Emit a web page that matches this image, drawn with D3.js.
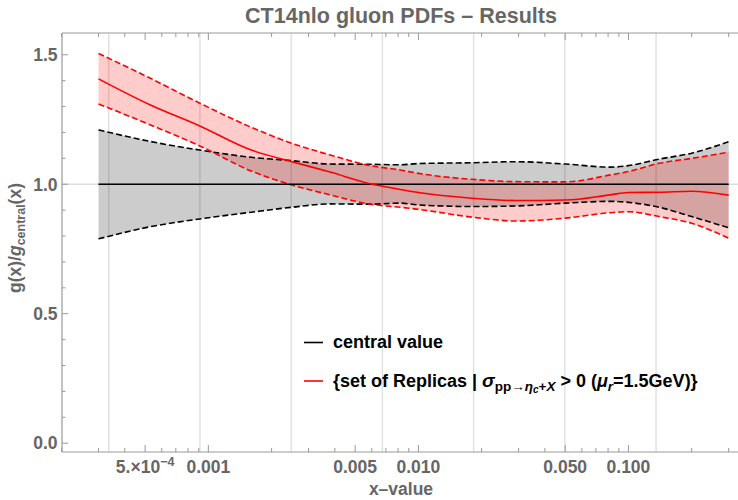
<!DOCTYPE html>
<html>
<head>
<meta charset="utf-8">
<script src="https://cdn.jsdelivr.net/npm/d3@7"></script>
<style>
  html, body { margin: 0; padding: 0; background: #fff; }
  svg { display: block; }
  text { font-family: "Liberation Sans", Arial, sans-serif; }
</style>
</head>
<body>
<svg id="chart" width="738" height="500"></svg>
<script>
// x positions (momentum fraction) where the ratios are sampled
const xValues = [3.0e-4, 5.3e-4, 9.1e-4, 1.6e-3, 2.5e-3, 3.8e-3, 5.9e-3, 8.2e-3,
                 1.0e-2, 1.8e-2, 2.9e-2, 5.0e-2, 8.2e-2, 1.0e-1, 1.4e-1, 2.0e-1, 3.0e-1];

// CT14nlo error band relative to the central member
const centralValue = [1, 1, 1, 1, 1, 1, 1, 1, 1, 1, 1, 1, 1, 1, 1, 1, 1];
const centralUpper = [1.210, 1.165, 1.132, 1.104, 1.091, 1.078, 1.077, 1.075,
                      1.080, 1.083, 1.087, 1.078, 1.066, 1.072, 1.097, 1.120, 1.164];
const centralLower = [0.789, 0.836, 0.866, 0.892, 0.911, 0.924, 0.923, 0.927,
                      0.920, 0.914, 0.916, 0.927, 0.934, 0.930, 0.911, 0.875, 0.832];

// replicas with positive eta_c cross section
const replicaMean  = [1.407, 1.306, 1.225, 1.132, 1.087, 1.047, 1.002, 0.980,
                      0.968, 0.946, 0.937, 0.939, 0.959, 0.968, 0.969, 0.973, 0.958];
const replicaUpper = [1.505, 1.409, 1.313, 1.220, 1.158, 1.113, 1.072, 1.055,
                      1.042, 1.019, 1.010, 1.009, 1.036, 1.049, 1.081, 1.100, 1.124];
const replicaLower = [1.310, 1.229, 1.148, 1.051, 0.997, 0.959, 0.923, 0.911,
                      0.903, 0.873, 0.858, 0.869, 0.890, 0.894, 0.875, 0.849, 0.792];

// axis ticks
const xMajorTicks = [5e-4, 1e-3, 5e-3, 1e-2, 5e-2, 1e-1];
const xMinorTicks = [2e-4, 3e-4, 4e-4, 6e-4, 7e-4, 8e-4, 9e-4, 2e-3, 3e-3, 4e-3,
                     6e-3, 7e-3, 8e-3, 9e-3, 2e-2, 3e-2, 4e-2, 6e-2, 7e-2, 8e-2, 9e-2, 2e-1, 3e-1];
const yMajorTicks = [0, 0.5, 1.0, 1.5];
const yMinorTicks = [0.1, 0.2, 0.3, 0.4, 0.6, 0.7, 0.8, 0.9, 1.1, 1.2, 1.3, 1.4];
// vertical grid lines sit at integer values of ln x
const xGridLines = [-8, -7, -6, -5, -4, -3, -2].map(Math.exp);
const yGridLines = [1.0];

const svg = d3.select("#chart");
const plotLeft = 62, plotRight = 739, plotTop = 33, plotBottom = 452;

const x = d3.scaleLog().domain([2.01e-4, 0.336]).range([plotLeft, plotRight]);
const y = d3.scaleLinear().domain([-0.034, 1.584]).range([plotBottom, plotTop]);

const axisGray = "#999";
const labelGray = "#666";

// grid
svg.append("g").selectAll("line").data(xGridLines).join("line")
  .attr("x1", d => x(d)).attr("x2", d => x(d))
  .attr("y1", plotTop).attr("y2", plotBottom)
  .attr("stroke", "#ddd").attr("stroke-width", 1.3);
svg.append("g").selectAll("line").data(yGridLines).join("line")
  .attr("x1", plotLeft).attr("x2", plotRight)
  .attr("y1", d => y(d)).attr("y2", d => y(d))
  .attr("stroke", "#ddd").attr("stroke-width", 1.3);

const pts = arr => arr.map((v, i) => [xValues[i], v]);
const band = (lo, hi) => d3.area()
  .x((d, i) => x(xValues[i]))
  .y0((d, i) => y(lo[i]))
  .y1((d, i) => y(hi[i]))
  .curve(d3.curveMonotoneX)(xValues);
const line = d3.line().x(d => x(d[0])).y(d => y(d[1])).curve(d3.curveMonotoneX);

// bands
svg.append("path").attr("d", band(centralLower, centralUpper))
  .attr("fill", "rgb(0,0,0)").attr("fill-opacity", 0.2);
svg.append("path").attr("d", band(replicaLower, replicaUpper))
  .attr("fill", "rgb(255,0,0)").attr("fill-opacity", 0.2);

// band edges
[centralUpper, centralLower].forEach(arr => {
  svg.append("path").attr("d", line(pts(arr))).attr("fill", "none")
    .attr("stroke", "#000").attr("stroke-width", 1.6).attr("stroke-dasharray", "6,3");
});
[replicaUpper, replicaLower].forEach(arr => {
  svg.append("path").attr("d", line(pts(arr))).attr("fill", "none")
    .attr("stroke", "#f00").attr("stroke-width", 1.6).attr("stroke-dasharray", "6,3");
});

// central lines
svg.append("path").attr("d", line(pts(centralValue))).attr("fill", "none")
  .attr("stroke", "#000").attr("stroke-width", 1.6);
svg.append("path").attr("d", line(pts(replicaMean))).attr("fill", "none")
  .attr("stroke", "#f00").attr("stroke-width", 1.6);

// frame
const frame = svg.append("g").attr("stroke", axisGray).attr("stroke-width", 1.2).attr("fill", "none");
frame.append("line").attr("x1", plotLeft).attr("x2", plotRight).attr("y1", plotBottom).attr("y2", plotBottom);
frame.append("line").attr("x1", plotLeft).attr("x2", plotRight).attr("y1", plotTop).attr("y2", plotTop);
frame.append("line").attr("x1", plotLeft).attr("x2", plotLeft).attr("y1", plotTop).attr("y2", plotBottom);

// ticks (inward, mirrored on the top edge)
const tickG = svg.append("g").attr("stroke", axisGray).attr("stroke-width", 1);
const xTicks = xMajorTicks.map(v => [v, 7]).concat(xMinorTicks.map(v => [v, 4]));
xTicks.forEach(([v, len]) => {
  tickG.append("line").attr("x1", x(v)).attr("x2", x(v)).attr("y1", plotBottom).attr("y2", plotBottom - len);
  tickG.append("line").attr("x1", x(v)).attr("x2", x(v)).attr("y1", plotTop).attr("y2", plotTop + len);
});
const yTicks = yMajorTicks.map(v => [v, 6]).concat(yMinorTicks.map(v => [v, 3.5]));
yTicks.forEach(([v, len]) => {
  tickG.append("line").attr("x1", plotLeft).attr("x2", plotLeft + len).attr("y1", y(v)).attr("y2", y(v));
});

// tick labels
const labelStyle = sel => sel.attr("fill", labelGray).attr("font-weight", "bold").attr("font-size", 17.5);
const fmtX = d3.format(".3f");
xMajorTicks.forEach(v => {
  const t = svg.append("text").attr("x", x(v)).attr("y", 472.5).attr("text-anchor", "middle").call(labelStyle);
  if (v < 1e-3) {
    t.append("tspan").text("5.\u00d710");
    t.append("tspan").attr("font-size", 12.5).attr("dy", -7).text("\u22124");
  } else {
    t.text(fmtX(v));
  }
});
yMajorTicks.forEach(v => {
  svg.append("text").attr("x", 57.5).attr("y", y(v) + 6.3).attr("text-anchor", "end")
    .call(labelStyle).text(d3.format(".1f")(v));
});

// title
svg.append("text").attr("x", 401).attr("y", 23).attr("text-anchor", "middle")
  .attr("fill", labelGray).attr("font-weight", "bold").attr("font-size", 21.5)
  .text("CT14nlo gluon PDFs \u2013 Results");

// axis labels
svg.append("text").attr("x", 401).attr("y", 495).attr("text-anchor", "middle")
  .call(labelStyle).text("x\u2013value");
const yl = svg.append("text").attr("transform", "translate(21,238) rotate(-90)")
  .attr("text-anchor", "middle").call(labelStyle);
yl.append("tspan").text("g(x)/");
yl.append("tspan").attr("font-style", "italic").text("g");
yl.append("tspan").attr("font-size", 12.5).attr("dy", 4).text("central");
yl.append("tspan").attr("dy", -4).text("(x)");

// legend
const legend = svg.append("g");
legend.append("line").attr("x1", 304).attr("x2", 323).attr("y1", 342.5).attr("y2", 342.5)
  .attr("stroke", "#000").attr("stroke-width", 1.6);
legend.append("text").attr("x", 333).attr("y", 348).attr("font-size", 18)
  .attr("font-weight", "bold").attr("fill", "#000").text("central value");
legend.append("line").attr("x1", 304).attr("x2", 323).attr("y1", 381).attr("y2", 381)
  .attr("stroke", "#f00").attr("stroke-width", 1.6);
const lt = legend.append("text").attr("x", 333).attr("y", 387).attr("font-size", 18)
  .attr("font-weight", "bold").attr("fill", "#000");
lt.append("tspan").text("{set of Replicas | ");
lt.append("tspan").attr("font-style", "italic").attr("font-size", 19).text("\u03c3");
lt.append("tspan").attr("font-size", 13.5).attr("dy", 4).text("pp\u2192");
lt.append("tspan").attr("font-size", 13.5).attr("font-style", "italic").text("\u03b7");
lt.append("tspan").attr("font-size", 10).attr("font-style", "italic").attr("dy", 2).text("c");
lt.append("tspan").attr("font-size", 13.5).attr("dy", -2).text("+");
lt.append("tspan").attr("font-size", 13.5).attr("font-style", "italic").text("X");
lt.append("tspan").attr("dy", -4).text(" > 0 (");
lt.append("tspan").attr("font-style", "italic").text("\u03bc");
lt.append("tspan").attr("font-size", 13.5).attr("font-style", "italic").attr("dy", 4).text("r");
lt.append("tspan").attr("dy", -4).text("=1.5GeV)}");
</script>
</body>
</html>
